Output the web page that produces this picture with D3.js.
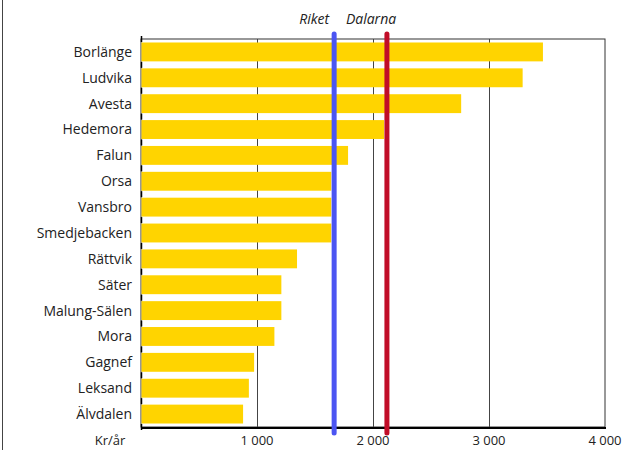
<!DOCTYPE html>
<html>
<head>
<meta charset="utf-8">
<script src="https://d3js.org/d3.v7.min.js"></script>
<style>
  body { margin: 0; background: #fff; }
  svg text { font-family: "Open Sans", sans-serif; fill: #222; }
</style>
</head>
<body>
<svg id="chart" width="625" height="450"></svg>
<script>
// kommuner, sorted as in the picture
var kommuner = ["Borlänge", "Ludvika", "Avesta", "Hedemora", "Falun", "Orsa", "Vansbro",
  "Smedjebacken", "Rättvik", "Säter", "Malung-Sälen", "Mora", "Gagnef", "Leksand", "Älvdalen"]
var belopp = [3465, 3290, 2760, 2095, 1785, 1640, 1640, 1640, 1345, 1210, 1210, 1150, 975, 930, 880]
var xTicks = [1000, 2000, 3000, 4000]
var refNames = ["Riket", "Dalarna"]
var refValues = [1665, 2120]
var refColors = ["#4b55f2", "#c10d28"]

var margin = { top: 39, right: 20, bottom: 23, left: 141 }

var svg = d3.select("#chart")

// thin page border on the left
svg.append("line")
  .attr("x1", 2.5).attr("x2", 2.5)
  .attr("y1", 0).attr("y2", 450)
  .attr("stroke", "#444").attr("stroke-width", 1)

var g = svg.append("g")
  .attr("transform", "translate(" + margin.left + "," + margin.top + ")")

var x = d3.scaleLinear().domain([0, 4000]).range([0, 464])
var y = d3.scaleBand().domain(kommuner).range([0, 388]).paddingInner(0.27).paddingOuter(0.135)

// frame + grid
g.append("rect")
  .attr("x", 0).attr("y", 0)
  .attr("width", x(4000)).attr("height", 388)
  .attr("fill", "none").attr("stroke", "#333").attr("stroke-width", 1)

g.selectAll(".grid")
  .data(xTicks.slice(0, 3))
  .enter().append("line")
  .attr("x1", function(d) { return Math.round(x(d)) + 0.5 })
  .attr("x2", function(d) { return Math.round(x(d)) + 0.5 })
  .attr("y1", 0).attr("y2", 388)
  .attr("stroke", "#444").attr("stroke-width", 1)

// left axis: grey line, small black ticks between the bars
g.append("line")
  .attr("x1", 0.5).attr("x2", 0.5).attr("y1", 0).attr("y2", 388)
  .attr("stroke", "#999")
var step = y.step()
g.selectAll(".ytick")
  .data(d3.range(0, kommuner.length + 1))
  .enter().append("line")
  .attr("x1", 0.5).attr("x2", 0.5)
  .attr("y1", function(i) { return y(kommuner[0]) - step * 0.27 / 2 + i * step - 3 })
  .attr("y2", function(i) { return y(kommuner[0]) - step * 0.27 / 2 + i * step + 3 })
  .attr("stroke", "#000").attr("stroke-width", 1.5)

// bars
g.selectAll(".bar")
  .data(belopp)
  .enter().append("rect")
  .attr("x", 0.5)
  .attr("y", function(d, i) { return y(kommuner[i]) })
  .attr("width", function(d) { return x(d) - 0.5 })
  .attr("height", y.bandwidth())
  .attr("fill", "#ffd400")

// category labels
g.selectAll(".lbl")
  .data(kommuner)
  .enter().append("text")
  .attr("x", -9)
  .attr("y", function(d) { return y(d) + y.bandwidth() / 2 })
  .attr("dy", "0.35em")
  .attr("text-anchor", "end")
  .style("font-size", "14px")
  .text(function(d) { return d })

// bottom axis line
g.append("line")
  .attr("x1", 0).attr("x2", x(4000) + 1)
  .attr("y1", 389).attr("y2", 389)
  .attr("stroke", "#000").attr("stroke-width", 2)

// tick labels
g.selectAll(".xt")
  .data(xTicks)
  .enter().append("text")
  .attr("x", function(d) { return x(d) })
  .attr("y", 406)
  .attr("text-anchor", "middle")
  .style("font-size", "13px")
  .text(function(d) { return d3.format(",")(d).replace(",", " ") })

g.append("text")
  .attr("x", -31).attr("y", 406)
  .attr("text-anchor", "middle")
  .style("font-size", "13px")
  .text("Kr/år")

// reference lines
g.selectAll(".ref")
  .data(refValues)
  .enter().append("line")
  .attr("x1", function(d) { return x(d) })
  .attr("x2", function(d) { return x(d) })
  .attr("y1", -5).attr("y2", 394)
  .attr("stroke", function(d, i) { return refColors[i] })
  .attr("stroke-width", 5)
  .attr("stroke-linecap", "round")

g.selectAll(".reflbl")
  .data(refValues)
  .enter().append("text")
  .attr("x", function(d, i) { return i === 0 ? x(d) - 5 : x(d) - 41 })
  .attr("y", -15)
  .attr("text-anchor", function(d, i) { return i === 0 ? "end" : "start" })
  .style("font-size", "14px")
  .style("font-style", "italic")
  .text(function(d, i) { return refNames[i] })
</script>
</body>
</html>
